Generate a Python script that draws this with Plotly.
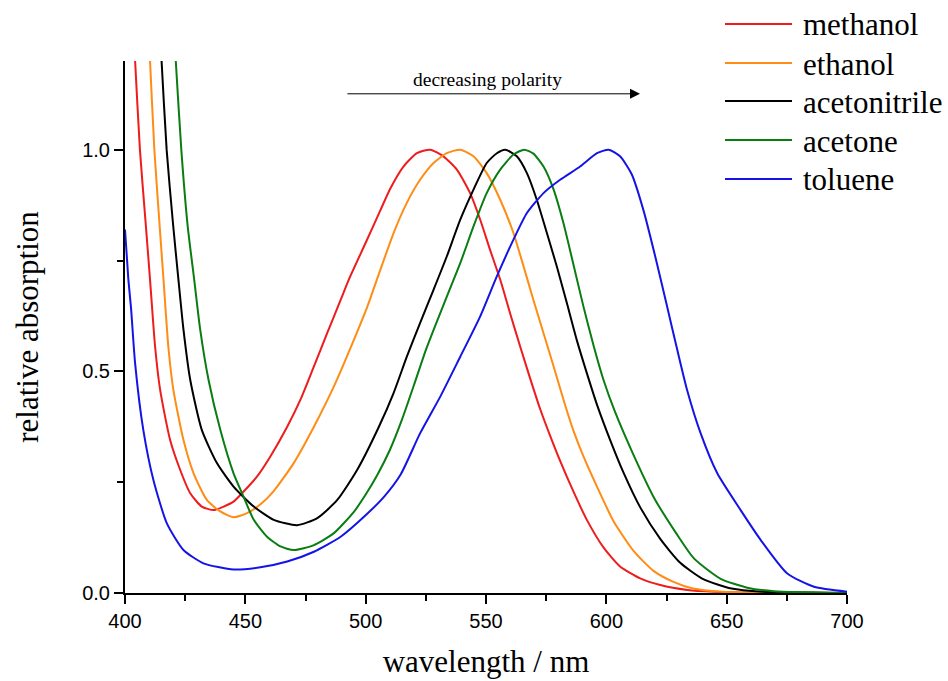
import plotly.graph_objects as go

# ---- data ----
solvents = ["methanol", "ethanol", "acetonitrile", "acetone", "toluene"]
colors = ["#ee1c1c", "#ff8c14", "#000000", "#0a7d12", "#1414e6"]

methanol_wl = [402, 404.2, 406.2, 408.5, 410.4, 412.5, 414.6, 418.75, 422.9, 427.1, 431.9, 436.8, 441, 445.1,
               449.3, 454.9, 460.4, 467.4, 472.9, 478.5, 484, 489.6, 493, 500, 506, 510.2, 515.7, 521.3, 526.8,
               532.3, 537.9, 543.4, 547.6, 551.7, 555.9, 560, 564.2, 568.4, 572.5, 576.7, 580.8, 586.4, 591.9,
               598.8, 605.7, 614.1, 622.4, 633.7, 645, 660, 700]
methanol_abs = [1.42, 1.2, 1.0, 0.84, 0.707, 0.556, 0.458, 0.345, 0.278, 0.225, 0.195, 0.187, 0.195, 0.206,
                0.229, 0.263, 0.308, 0.375, 0.436, 0.511, 0.586, 0.661, 0.707, 0.790, 0.862, 0.912, 0.962, 0.992, 1.0,
                0.985, 0.955, 0.902, 0.842, 0.774, 0.707, 0.631, 0.556, 0.483, 0.415, 0.354, 0.298, 0.228, 0.165,
                0.103, 0.060, 0.033, 0.018, 0.007, 0.003, 0.001, 0.0]

ethanol_wl = [408, 410.4, 412.2, 414.5, 416, 418, 420.1, 424.3, 428.5, 434, 439.6, 445.1, 450.7, 456.3, 461.8,
              470.1, 478.5, 486.8, 495.1, 500.7, 505, 511.6, 517.1, 522.6, 528.2, 533.7, 539.3, 544.8, 550.3,
              555.9, 561.4, 565.6, 569.7, 573.9, 578.1, 582.2, 586.4, 590.5, 596.1, 603, 611.3, 619.6, 627.9,
              636, 648, 665, 700]
ethanol_abs = [1.46, 1.2, 1.0, 0.82, 0.707, 0.556, 0.458, 0.345, 0.270, 0.210, 0.184, 0.171, 0.180, 0.200, 0.230,
               0.293, 0.375, 0.466, 0.571, 0.646, 0.712, 0.812, 0.880, 0.932, 0.970, 0.992, 1.0, 0.985, 0.947,
               0.887, 0.812, 0.737, 0.661, 0.586, 0.511, 0.436, 0.365, 0.308, 0.240, 0.162, 0.095, 0.050, 0.025,
               0.010, 0.003, 0.001, 0.0]

acetonitrile_wl = [413, 415.2, 417.3, 420, 422.2, 424.3, 427.1, 431.9, 438.2, 445.1, 453.5, 461.8, 471.5, 479.9,
                   488.2, 496.5, 505.5, 511.6, 517.1, 522.6, 528.2, 533.7, 539.3, 544.8, 550.3, 554.5, 558, 562.8,
                   567, 571.1, 575.3, 579.4, 583.6, 587.7, 591.9, 596.1, 601.6, 607.1, 614.2, 622.4, 630.7, 640,
                   652, 665, 700]
acetonitrile_abs = [1.42, 1.2, 1.0, 0.83, 0.707, 0.594, 0.481, 0.368, 0.293, 0.240, 0.195, 0.165, 0.153, 0.169,
                    0.210, 0.278, 0.375, 0.451, 0.533, 0.609, 0.684, 0.759, 0.842, 0.910, 0.970, 0.992, 1.0, 0.985,
                    0.947, 0.887, 0.812, 0.737, 0.654, 0.571, 0.496, 0.425, 0.345, 0.272, 0.192, 0.122, 0.068, 0.032,
                    0.010, 0.003, 0.0]

acetone_wl = [419, 421.1, 423.4, 426, 428.75, 431.25, 434.7, 439.6, 445.1, 449.3, 453.5, 459, 464.6, 470.1, 478.5,
              486.8, 495.1, 500, 505, 510, 515, 520, 525, 530, 535, 539.3, 544.8, 550.3, 555.9, 561.4,
              565.9, 569.7, 573.9, 578.1, 582.2, 586.5, 590.5, 594.8, 598.8, 603.5, 611, 619.8, 629, 636.4, 647.5,
              658.6, 669.7, 700]
acetone_abs = [1.4, 1.2, 1.0, 0.83, 0.707, 0.594, 0.481, 0.368, 0.270, 0.217, 0.165, 0.127, 0.105, 0.097, 0.108,
               0.135, 0.183, 0.222, 0.268, 0.322, 0.390, 0.468, 0.548, 0.618, 0.686, 0.744, 0.827, 0.902, 0.955,
               0.989, 1.0, 0.991, 0.962, 0.910, 0.834, 0.737, 0.646, 0.556, 0.481, 0.410, 0.315, 0.215, 0.135,
               0.078, 0.032, 0.012, 0.004, 0.0]

toluene_wl = [400, 401.4, 402.5, 404.2, 407.6, 411.8, 417.4, 424.3, 432.6, 445.1, 456.25, 467.4, 478.5, 489.6,
              499.3, 507.6, 514.6, 522.6, 531, 539.3, 547.6, 554.5, 561.4, 567, 573.9, 580.8, 589.1, 596.1, 601,
              605.7, 610.5, 615.5, 620.5, 625.3, 629.5, 633.7, 639.2, 646.1, 655.8, 664.1, 675.2, 686.3, 700]
toluene_abs = [0.82, 0.707, 0.643, 0.518, 0.368, 0.255, 0.157, 0.097, 0.067, 0.053, 0.058, 0.071, 0.093, 0.127,
               0.172, 0.217, 0.268, 0.360, 0.443, 0.533, 0.624, 0.714, 0.797, 0.857, 0.902, 0.932, 0.962, 0.992, 1.0,
               0.985, 0.945, 0.862, 0.755, 0.645, 0.548, 0.455, 0.360, 0.270, 0.187, 0.120, 0.044, 0.014, 0.003]

wavelengths = [methanol_wl, ethanol_wl, acetonitrile_wl, acetone_wl, toluene_wl]
absorbances = [methanol_abs, ethanol_abs, acetonitrile_abs, acetone_abs, toluene_abs]

x_ticks = [400, 450, 500, 550, 600, 650, 700]
y_ticks = [0.0, 0.5, 1.0]
y_tick_labels = ["0.0", "0.5", "1.0"]
arrow_label = "decreasing polarity"

SERIF = "Times New Roman, Liberation Serif, serif"
SANS = "Arial, Liberation Sans, sans-serif"

# pixel geometry of the plot area
W, H = 948, 681
PX0, PX1, PY0, PY1 = 125, 847, 61, 593


def paper_x(px):
    return (px - PX0) / (PX1 - PX0)


def paper_y(py):
    return (PY1 - py) / (PY1 - PY0)


fig = go.Figure()
for name, wl, ab, col in zip(solvents, wavelengths, absorbances, colors):
    fig.add_trace(go.Scatter(x=wl, y=ab, mode="lines", name=name,
                             line=dict(color=col, width=2, shape="spline", smoothing=0.6),
                             showlegend=False))

# custom legend (long line samples as in the reference)
leg_rows = [24, 63, 101, 140, 179]
shapes = []
annotations = []
for name, col, py in zip(solvents, colors, leg_rows):
    yy = paper_y(py)
    shapes.append(dict(type="line", xref="paper", yref="paper", x0=paper_x(725), x1=paper_x(792),
                       y0=yy, y1=yy, line=dict(color=col, width=2)))
    annotations.append(dict(xref="paper", yref="paper", x=paper_x(801), y=yy, text=name, showarrow=False,
                            xanchor="left", yanchor="middle", yshift=-1,
                            font=dict(family=SERIF, size=31, color="black")))

# polarity arrow
annotations.append(dict(x=614, y=1.126, ax=491.8, ay=1.126, xref="x", yref="y", axref="x", ayref="y",
                        text="", showarrow=True, arrowhead=2, arrowsize=2, arrowwidth=1, arrowcolor="black"))
annotations.append(dict(x=550.8, y=1.126, xref="x", yref="y", text=arrow_label, showarrow=False,
                        yanchor="bottom", yshift=2, font=dict(family=SERIF, size=19.5, color="black")))

fig.update_layout(
    width=W, height=H,
    margin=dict(l=PX0, r=W - PX1, t=PY0, b=H - PY1, autoexpand=False),
    paper_bgcolor="white", plot_bgcolor="white",
    shapes=shapes, annotations=annotations,
    showlegend=False,
)
fig.update_xaxes(range=[400, 700], tickvals=x_ticks, ticks="outside", ticklen=9, tickwidth=2,
                 tickcolor="black", showline=True, linecolor="black", linewidth=2, showgrid=False,
                 zeroline=False, automargin=False, tickfont=dict(family=SANS, size=20, color="black"),
                 minor=dict(dtick=25, ticks="outside", ticklen=6, tickwidth=2, tickcolor="black", showgrid=False),
                 title=dict(text="wavelength / nm", font=dict(family=SERIF, size=31, color="black"), standoff=19))
fig.update_yaxes(range=[0, 1.2], tickvals=y_ticks, ticktext=y_tick_labels, ticks="outside", ticklen=9,
                 tickwidth=2, tickcolor="black", showline=True, linecolor="black", linewidth=2, showgrid=False,
                 zeroline=False, automargin=False, tickfont=dict(family=SANS, size=20, color="black"),
                 minor=dict(dtick=0.25, ticks="outside", ticklen=6, tickwidth=2, tickcolor="black", showgrid=False),
                 title=dict(text="relative absorption", font=dict(family=SERIF, size=31, color="black"), standoff=34))

fig.write_html("out.html", config={"displayModeBar": False},
               post_script="document.body.style.margin='0';document.body.style.overflow='hidden';")
